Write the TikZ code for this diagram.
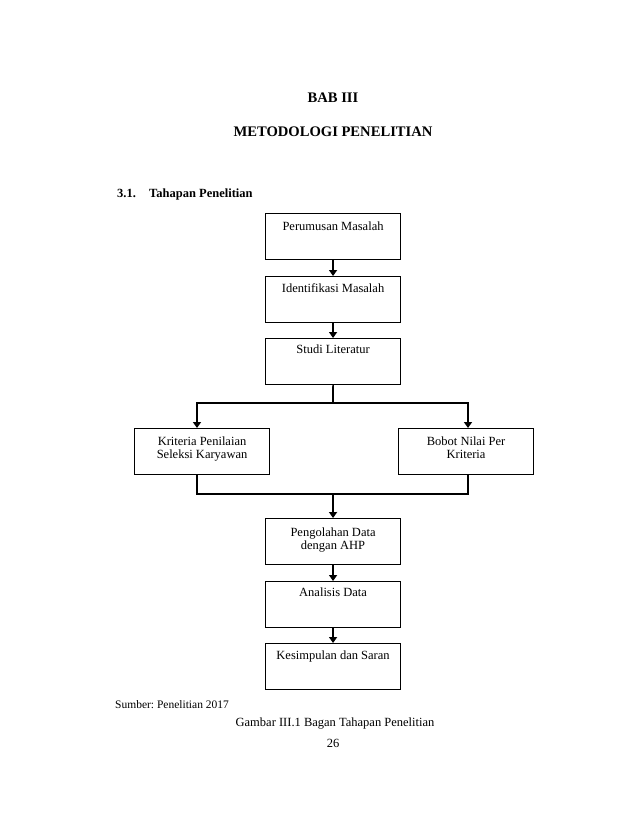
\documentclass[tikz,border=0pt]{standalone}
\usepackage{fontspec}
\setmainfont{Liberation Serif}
\usetikzlibrary{arrows.meta}
\frenchspacing
\begin{document}
\begin{tikzpicture}[x=1pt,y=-1pt,
  stepbox/.style={draw,line width=1.1pt,minimum width=135pt,minimum height=46pt,inner sep=0pt,anchor=north west},
  btxt/.style={font=\fontsize{12.5}{12.5}\selectfont,align=center,anchor=north,inner sep=0pt},
  head/.style={font=\fontsize{14.6}{16}\selectfont\bfseries,inner sep=0pt},
  subhead/.style={font=\fontsize{12.5}{14}\selectfont\bfseries,inner sep=0pt,anchor=base west},
  plain/.style={font=\fontsize{12.5}{14}\selectfont,inner sep=0pt},
  conn/.style={line width=1.6pt},
  arr/.style={conn,-{Triangle[length=6pt,width=8pt]}}]
\useasboundingbox[fill=white] (0,0) rectangle (638,825);

% headings
\node[head] (h1) at (333,98) {BAB III};
\node[head] (h2) at (333,132) {METODOLOGI PENELITIAN};
\node[subhead] (h3) at (117,197) {3.1.};
\node[subhead] (h4) at (149,197) {Tahapan Penelitian};

% boxes
\node[stepbox] (b1) at (265,213) {};
\node[stepbox] (b2) at (265,276) {};
\node[stepbox] (b3) at (265,338) {};
\node[stepbox] (k1) at (134,428) {};
\node[stepbox] (k2) at (398,428) {};
\node[stepbox] (b4) at (265,518) {};
\node[stepbox] (b5) at (265,581) {};
\node[stepbox] (b6) at (265,643) {};

% box texts
\node[btxt] (t1) at ([yshift=-9pt]b1.north) {Perumusan Masalah};
\node[btxt] (t2) at ([yshift=-7pt]b2.north) {Identifikasi Masalah};
\node[btxt] (t3) at ([yshift=-7pt]b3.north) {Studi Literatur};
\node[btxt] (tk1) at ([yshift=-9pt]k1.north) {Kriteria Penilaian\\Seleksi Karyawan};
\node[btxt] (tk2) at ([yshift=-9pt]k2.north) {Bobot Nilai Per\\Kriteria};
\node[btxt] (t4) at ([yshift=-10pt]b4.north) {Pengolahan Data\\dengan AHP};
\node[btxt] (t5) at ([yshift=-7pt]b5.north) {Analisis Data};
\node[btxt] (t6) at ([yshift=-8pt]b6.north) {Kesimpulan dan Saran};

% junction points
\coordinate (j1) at (333,403);
\coordinate (jl) at (197,403);
\coordinate (jr) at (468,403);
\coordinate (j2) at (333,494);

% connectors
\draw[arr] (b1.south) -- (b2.north);
\draw[arr] (b2.south) -- (b3.north);
\draw[conn] (b3.south) -- (j1);
\draw[arr] (j1) -- (jl) -- (jl |- k1.north);
\draw[arr] (j1) -- (jr) -- (jr |- k2.north);
\draw[conn] (jl |- k1.south) -- (jl |- j2) -- (jr |- j2) -- (jr |- k2.south);
\draw[arr] (j2) -- (b4.north);
\draw[arr] (b4.south) -- (b5.north);
\draw[arr] (b5.south) -- (b6.north);

% captions
\node[plain,anchor=west,font=\fontsize{11.5}{13}\selectfont] (s1) at (115,705) {Sumber: Penelitian 2017};
\node[plain] (c1) at (335,724) {Gambar III.1 Bagan Tahapan Penelitian};
\node[plain] (p1) at (333,743) {26};
\end{tikzpicture}
\end{document}
